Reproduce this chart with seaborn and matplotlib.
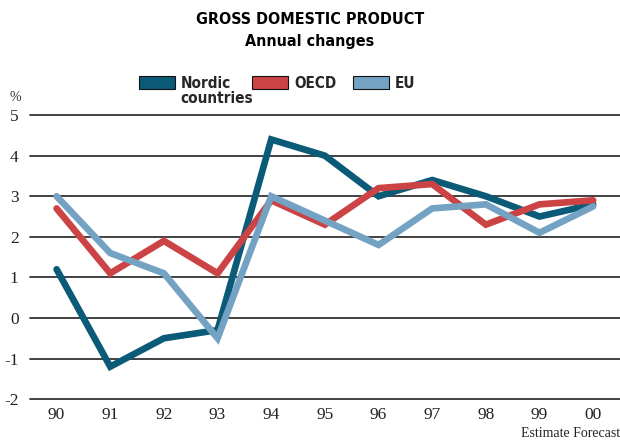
import pandas as pd
import matplotlib.pyplot as plt
import matplotlib.patches as mpatches
import seaborn as sns

# Annual GDP changes, %
years = ['90', '91', '92', '93', '94', '95', '96', '97', '98', '99', '00']
nordic = [1.2, -1.2, -0.5, -0.3, 4.4, 4.0, 3.0, 3.4, 3.0, 2.5, 2.8]
oecd = [2.7, 1.1, 1.9, 1.1, 2.9, 2.3, 3.2, 3.3, 2.3, 2.8, 2.9]
eu = [3.0, 1.6, 1.1, -0.5, 3.0, 2.4, 1.8, 2.7, 2.8, 2.1, 2.75]
series_names = ['Nordic\ncountries', 'OECD', 'EU']
colors = ['#0b5a78', '#cc4346', '#74a2c2']

df = pd.DataFrame({'Year': years * 3,
                   'Pos': list(range(len(years))) * 3,
                   'Value': nordic + oecd + eu,
                   'Series': [series_names[0]] * 11 + [series_names[1]] * 11 + [series_names[2]] * 11})

sns.set_style('white')
plt.rcParams['axes.unicode_minus'] = False
serif = ['Liberation Serif', 'DejaVu Serif']
narrow = ['DejaVu Sans']

fig = plt.figure(figsize=(6.2, 4.41), dpi=100)
ax = fig.add_axes([0.048, 0.095, 0.952, 0.644])

sns.lineplot(data=df, x='Pos', y='Value', hue='Series', palette=colors,
             linewidth=4.8, legend=False, ax=ax, sort=False)
for ln in ax.lines:
    ln.set_solid_joinstyle('miter')
    ln.set_clip_on(False)

ax.set_xlim(-0.5, 10.5)
ax.set_ylim(-2, 5)
ax.set_yticks(range(-2, 6))
ax.set_xticks(range(len(years)))
ax.set_xticklabels(years)
for s in ax.spines.values():
    s.set_visible(False)
for v in range(-2, 6):
    ax.axhline(v, color='#333333', lw=1.3, zorder=0, clip_on=False)
ax.tick_params(length=0, pad=6)
ax.tick_params(axis='y', pad=8)
for lab in ax.get_xticklabels() + ax.get_yticklabels():
    lab.set_family(serif)
    lab.set_fontsize(12.5)
    lab.set_color('#222222')
ax.set_xlabel('')
ax.set_ylabel('')

fig.text(0.5, 0.955, 'GROSS DOMESTIC PRODUCT', ha='center', va='center',
         fontsize=11.5, fontweight='bold', family=narrow, stretch='condensed', color='black')
fig.text(0.5, 0.907, 'Annual changes', ha='center', va='center',
         fontsize=11.5, fontweight='bold', family=narrow, stretch='condensed', color='black')
fig.text(0.015, 0.78, '%', ha='left', va='center', fontsize=10,
         family=serif, color='#333333')
fig.text(1.0, 0.018, 'Estimate Forecast', ha='right', va='center',
         fontsize=10, family=serif, color='#222222')

# legend
leg_x = [0.224, 0.407, 0.57]
for x, c, name in zip(leg_x, colors, series_names):
    fig.patches.append(mpatches.Rectangle((x, 0.798), 0.058, 0.03, transform=fig.transFigure,
                                          facecolor=c, edgecolor='#111111', lw=0.8))
    fig.text(x + 0.067, 0.827, name, ha='left', va='top', fontsize=11,
             fontweight='bold', family=narrow, stretch='condensed', linespacing=1.0)

fig.savefig('out.png', dpi=100)
